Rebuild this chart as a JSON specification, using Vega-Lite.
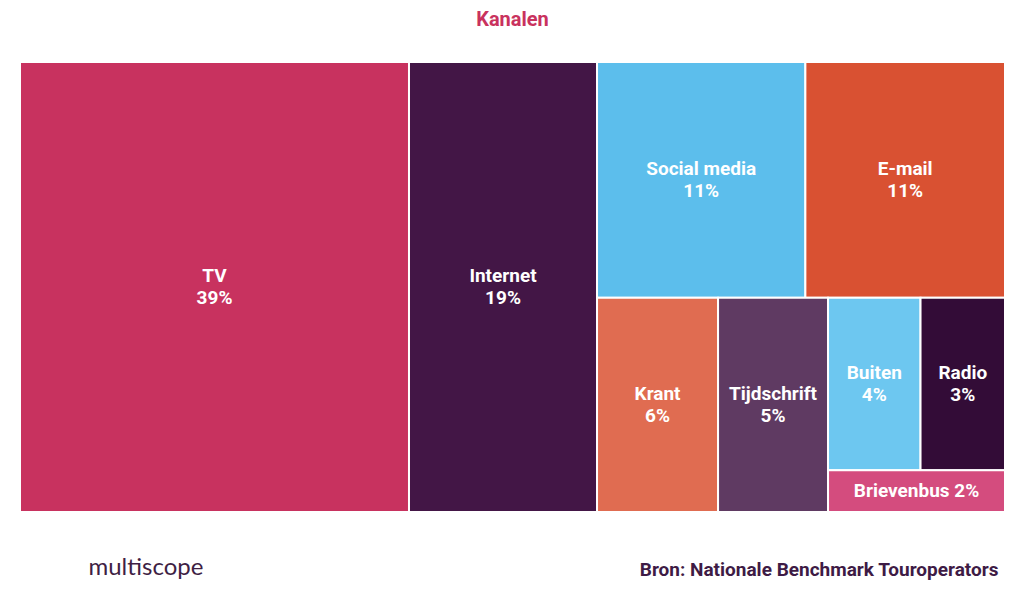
{
  "$schema": "https://vega.github.io/schema/vega-lite/v6.json",
  "width": 985,
  "height": 450,
  "autosize": {"type": "none"},
  "padding": {"left": 20, "top": 62, "right": 19, "bottom": 90},
  "background": "white",
  "title": {"text": "Kanalen", "anchor": "middle", "offset": 31, "fontSize": 20, "font": "Roboto", "fontWeight": "bold", "color": "#C9325E"},
  "data": {"values": [
    {"order": 1, "name": "TV", "value": 39.14, "l1": "TV", "l2": "TV", "l3": "TV", "l4": "TV"},
    {"order": 2, "name": "Internet", "value": 18.92, "l1": "Internet", "l2": "Internet", "l3": "Internet", "l4": "Internet"},
    {"order": 3, "name": "Social media", "value": 10.98, "l1": "Rest", "l2": "Top", "l3": "Social media", "l4": "Social media"},
    {"order": 4, "name": "E-mail", "value": 10.52, "l1": "Rest", "l2": "Top", "l3": "E-mail", "l4": "E-mail"},
    {"order": 5, "name": "Krant", "value": 5.8, "l1": "Rest", "l2": "Bottom", "l3": "Krant", "l4": "Krant"},
    {"order": 6, "name": "Tijdschrift", "value": 5.27, "l1": "Rest", "l2": "Bottom", "l3": "Tijdschrift", "l4": "Tijdschrift"},
    {"order": 7, "name": "Buiten", "value": 3.57, "l1": "Rest", "l2": "Bottom", "l3": "Small", "l4": "Upper"},
    {"order": 8, "name": "Radio", "value": 3.26, "l1": "Rest", "l2": "Bottom", "l3": "Small", "l4": "Upper"},
    {"order": 9, "name": "Brievenbus", "value": 1.65, "l1": "Rest", "l2": "Bottom", "l3": "Small", "l4": "Brievenbus"}
  ]},
  "transform": [
    {"stack": "value", "groupby": [], "sort": [{"field": "order", "order": "ascending"}], "offset": "normalize", "as": ["a1", "b1"]},
    {"joinaggregate": [{"op": "min", "field": "a1", "as": "X0"}, {"op": "max", "field": "b1", "as": "X1"}], "groupby": ["l1"]},
    {"stack": "value", "groupby": ["l1"], "sort": [{"field": "order", "order": "ascending"}], "offset": "normalize", "as": ["a2", "b2"]},
    {"joinaggregate": [{"op": "min", "field": "a2", "as": "Y0"}, {"op": "max", "field": "b2", "as": "Y1"}], "groupby": ["l1", "l2"]},
    {"stack": "value", "groupby": ["l1", "l2"], "sort": [{"field": "order", "order": "ascending"}], "offset": "normalize", "as": ["a3", "b3"]},
    {"joinaggregate": [{"op": "min", "field": "a3", "as": "P0"}, {"op": "max", "field": "b3", "as": "P1"}], "groupby": ["l1", "l2", "l3"]},
    {"stack": "value", "groupby": ["l1", "l2", "l3"], "sort": [{"field": "order", "order": "ascending"}], "offset": "normalize", "as": ["a4", "b4"]},
    {"joinaggregate": [{"op": "min", "field": "a4", "as": "Q0"}, {"op": "max", "field": "b4", "as": "Q1"}], "groupby": ["l1", "l2", "l3", "l4"]},
    {"stack": "value", "groupby": ["l1", "l2", "l3", "l4"], "sort": [{"field": "order", "order": "ascending"}], "offset": "normalize", "as": ["a5", "b5"]},
    {"calculate": "datum.X0 + (datum.X1 - datum.X0) * (datum.P0 + (datum.P1 - datum.P0) * datum.a5)", "as": "x0"},
    {"calculate": "datum.X0 + (datum.X1 - datum.X0) * (datum.P0 + (datum.P1 - datum.P0) * datum.b5)", "as": "x1"},
    {"calculate": "datum.Y0 + (datum.Y1 - datum.Y0) * datum.Q0", "as": "y0"},
    {"calculate": "datum.Y0 + (datum.Y1 - datum.Y0) * datum.Q1", "as": "y1"},
    {"calculate": "(datum.x0 + datum.x1) / 2", "as": "xc"},
    {"calculate": "(datum.y0 + datum.y1) / 2", "as": "yc"},
    {"calculate": "(datum.y1 - datum.y0) < 0.15", "as": "inline"},
    {"calculate": "datum.inline ? datum.name + ' ' + format(datum.value, '.0f') + '%' : datum.name + '\\n' + format(datum.value, '.0f') + '%'", "as": "label"}
  ],
  "layer": [
    {
      "mark": {"type": "rect", "stroke": "white", "strokeWidth": 2},
      "encoding": {
        "x": {"field": "x0", "type": "quantitative", "scale": {"domain": [0, 1], "nice": false, "zero": false}, "title": "Bron: Nationale Benchmark Touroperators"},
        "x2": {"field": "x1"},
        "y": {"field": "y0", "type": "quantitative", "scale": {"domain": [0, 1], "nice": false, "zero": false, "reverse": true}, "title": "multiscope"},
        "y2": {"field": "y1"},
        "color": {"field": "name", "type": "nominal", "legend": null,
          "scale": {"domain": ["TV", "Internet", "Social media", "E-mail", "Krant", "Tijdschrift", "Buiten", "Radio", "Brievenbus"],
                    "range": ["#C8325F", "#431646", "#5CBEEC", "#D95132", "#E06C51", "#5F3A62", "#6DC7F0", "#330C37", "#D44C7E"]}}
      }
    },
    {
      "transform": [{"filter": "!datum.inline"}],
      "mark": {"type": "text", "color": "white", "font": "Roboto", "fontWeight": "bold", "fontSize": 19, "lineBreak": "\n", "lineHeight": 22, "align": "center", "baseline": "middle", "dy": -11},
      "encoding": {
        "x": {"field": "xc", "type": "quantitative", "title": "Bron: Nationale Benchmark Touroperators"},
        "y": {"field": "yc", "type": "quantitative", "title": "multiscope"},
        "text": {"field": "label", "type": "nominal"}
      }
    },
    {
      "transform": [{"filter": "datum.inline"}],
      "mark": {"type": "text", "color": "white", "font": "Roboto", "fontWeight": "bold", "fontSize": 19, "align": "center", "baseline": "middle"},
      "encoding": {
        "x": {"field": "xc", "type": "quantitative", "title": "Bron: Nationale Benchmark Touroperators"},
        "y": {"field": "yc", "type": "quantitative", "title": "multiscope"},
        "text": {"field": "label", "type": "nominal"}
      }
    }
  ],
  "config": {
    "view": {"stroke": null},
    "axis": {"domain": false, "ticks": false, "labels": false, "grid": false},
    "axisX": {"titleX": 978, "titleY": 63, "titleAlign": "right", "titleBaseline": "alphabetic", "titleFont": "Roboto", "titleFontSize": 19, "titleFontWeight": "bold", "titleColor": "#3E1B45"},
    "axisY": {"titleAngle": 0, "titleX": 68, "titleY": 512, "titleAlign": "left", "titleBaseline": "alphabetic", "titleFont": "Lato", "titleFontSize": 24, "titleFontWeight": "normal", "titleColor": "#3F1F45"}
  }
}
